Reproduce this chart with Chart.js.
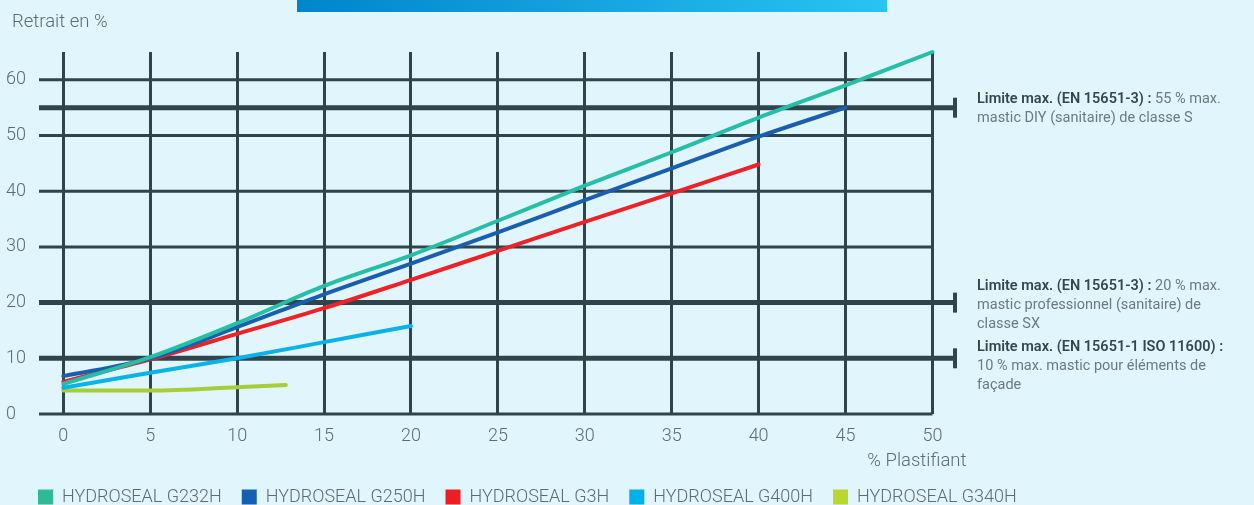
<!DOCTYPE html>
<html lang="fr">
<head>
<meta charset="utf-8">
<title>Retrait en % - HYDROSEAL</title>
<script src="https://cdn.jsdelivr.net/npm/chart.js@4.4.1/dist/chart.umd.min.js"></script>
<style>
    html, body { margin: 0; padding: 0; background: #e1f5fc; overflow: hidden; }
    #wrap { position: relative; width: 1254px; height: 505px; overflow: hidden; }
    #myChart { display: block; }
    #banner {
        position: absolute; left: 297px; top: 0; width: 590px; height: 12px;
        background: linear-gradient(90deg, #0085cb, #2ac3f2);
    }
</style>
</head>
<body>
<div id="wrap">
    <canvas id="myChart"></canvas>
    <div id="banner"></div>
</div>
<script>
// axes
const xTicks = [0, 5, 10, 15, 20, 25, 30, 35, 40, 45, 50];
const yTicks = [0, 10, 20, 30, 40, 50, 60];
const yTitle = 'Retrait en %';
const xTitle = '% Plastifiant';

// series (x = % plastifiant, y = retrait en %)
const seriesNames = ['HYDROSEAL G232H', 'HYDROSEAL G250H', 'HYDROSEAL G3H', 'HYDROSEAL G400H', 'HYDROSEAL G340H'];

const xG232H = [0, 5, 10, 15, 20, 25, 30, 35, 40, 45, 50];
const yG232H = [5.4, 10.2, 16.3, 23, 28.5, 34.7, 41, 47, 53.2, 59, 65];

const xG250H = [0, 5, 10, 15, 20, 25, 30, 35, 40, 45];
const yG250H = [6.8, 10, 15.6, 21.5, 27, 32.6, 38.4, 44.1, 49.8, 55];

const xG3H = [0, 5, 10, 15, 20, 25, 30, 35, 40];
const yG3H = [5.8, 9.8, 14.4, 19, 24.1, 29.3, 34.5, 39.6, 44.8];

const xG400H = [0, 5, 10, 15, 20];
const yG400H = [4.7, 7.4, 10, 12.9, 15.8];

const xG340H = [0, 5, 10, 12.8];
const yG340H = [4.2, 4.2, 4.8, 5.2];

// limites normatives
const limitValues = [55, 20, 10];
const limitEnd = 51.3;

const lineColors = ['#26bea6', '#1a5fae', '#ee2229', '#0ab2ea', '#a8cd3a'];
const boxColors = ['#2fba94', '#1560b0', '#ee1c25', '#00b0ea', '#bcd630'];
const gridColor = '#2f454b';
const labelColor = '#5b6d74';

// annotation texts next to the limit lines: [text, bold]
const notes = [
    { dy: -8, lines: [
        [['Limite max. (EN 15651-3) : ', true], ['55 % max.', false]],
        [['mastic DIY (sanitaire) de classe S', false]]
    ] },
    { dy: -16, lines: [
        [['Limite max. (EN 15651-3) : ', true], ['20 % max.', false]],
        [['mastic professionnel (sanitaire) de', false]],
        [['classe SX', false]]
    ] },
    { dy: -11, lines: [
        [['Limite max. (EN 15651-1 ISO 11600) :', true]],
        [['10 % max. mastic pour éléments de', false]],
        [['façade', false]]
    ] }
];

const toPoints = (xs, ys) => xs.map((x, i) => ({ x: x, y: ys[i] }));
const seriesData = [
    toPoints(xG232H, yG232H),
    toPoints(xG250H, yG250H),
    toPoints(xG3H, yG3H),
    toPoints(xG400H, yG400H),
    toPoints(xG340H, yG340H)
];

const X_MIN = -1.4;
const X_MAX = 68.5;

const seriesDatasets = seriesNames.map((name, i) => ({
    label: name,
    data: seriesData[i],
    borderColor: lineColors[i],
    backgroundColor: boxColors[i],
    borderWidth: 4,
    borderCapStyle: 'round',
    pointRadius: 0,
    cubicInterpolationMode: 'monotone',
    clip: false
}));

const limitDatasets = limitValues.map(v => ({
    label: 'limite ' + v,
    data: [{ x: X_MIN, y: v }, { x: limitEnd, y: v }],
    borderColor: gridColor,
    borderWidth: 5,
    pointRadius: [0, 10],
    pointStyle: 'line',
    rotation: 90,
    pointBorderWidth: 4,
    pointBorderColor: gridColor,
    clip: false
}));

// thin horizontal grid lines, stopping at x = 50
const hGridPlugin = {
    id: 'hGrid',
    beforeDatasetsDraw(chart) {
        const { ctx, scales: { x, y } } = chart;
        ctx.save();
        ctx.strokeStyle = gridColor;
        ctx.lineWidth = 3;
        yTicks.forEach(v => {
            const py = y.getPixelForValue(v);
            ctx.beginPath();
            ctx.moveTo(x.left, py);
            ctx.lineTo(x.getPixelForValue(xTicks[xTicks.length - 1]), py);
            ctx.stroke();
        });
        ctx.restore();
    }
};

// legend starts a little right of the canvas edge, as in the original
const legendShift = {
    id: 'legendShift',
    afterLayout(chart) {
        chart.legend.left += 12;
    }
};

const textPlugin = {
    id: 'texts',
    afterDraw(chart) {
        const { ctx, scales: { x, y } } = chart;
        ctx.save();
        ctx.fillStyle = labelColor;
        ctx.textBaseline = 'middle';
        ctx.font = '300 18.5px Roboto';
        ctx.textAlign = 'left';
        ctx.fillText(yTitle, 12, 22);
        ctx.textAlign = 'right';
        ctx.fillText(xTitle, x.getPixelForValue(50) + 34, 461);

        ctx.textAlign = 'left';
        const left = x.getPixelForValue(limitEnd) + 22;
        notes.forEach((note, n) => {
            const top = y.getPixelForValue(limitValues[n]) + note.dy;
            note.lines.forEach((parts, i) => {
                let px = left;
                parts.forEach(([txt, bold]) => {
                    ctx.font = bold ? '600 14.5px Roboto' : '400 14.5px Roboto';
                    ctx.fillStyle = bold ? '#34474e' : '#6b7a80';
                    ctx.fillText(txt, px, top + i * 19);
                    px += ctx.measureText(txt).width;
                });
            });
        });
        ctx.restore();
    }
};

Chart.defaults.font.family = 'Roboto';

new Chart(document.getElementById('myChart'), {
    type: 'line',
    data: { datasets: seriesDatasets.concat(limitDatasets) },
    options: {
        responsive: true,
        maintainAspectRatio: false,
        animation: false,
        layout: { autoPadding: false, padding: { left: 6, top: 52, right: 0, bottom: -11 } },
        scales: {
            x: {
                type: 'linear',
                min: X_MIN,
                max: X_MAX,
                afterBuildTicks: scale => { scale.ticks = xTicks.map(v => ({ value: v })); },
                afterFit: scale => { scale.height = 54; },
                grid: { color: gridColor, lineWidth: 3, drawTicks: false },
                border: { display: false },
                ticks: { color: labelColor, padding: 12, font: { size: 18, weight: 300 } }
            },
            y: {
                min: 0,
                max: 65,
                afterBuildTicks: scale => { scale.ticks = yTicks.map(v => ({ value: v })); },
                afterFit: scale => { scale.width = 33; },
                grid: { display: false },
                border: { display: false },
                ticks: { color: labelColor, crossAlign: 'far', font: { size: 18, weight: 300 } }
            }
        },
        plugins: {
            tooltip: { enabled: false },
            legend: {
                position: 'bottom',
                align: 'start',
                labels: {
                    boxWidth: 15,
                    boxHeight: 15,
                    padding: 20,
                    color: labelColor,
                    font: { size: 18, weight: 300 },
                    filter: item => item.datasetIndex < seriesNames.length,
                    generateLabels: chart => Chart.defaults.plugins.legend.labels.generateLabels(chart)
                        .map(l => Object.assign(l, { lineWidth: 0, fillStyle: boxColors[l.datasetIndex] }))
                }
            }
        }
    },
    plugins: [hGridPlugin, legendShift, textPlugin]
});
</script>
</body>
</html>
